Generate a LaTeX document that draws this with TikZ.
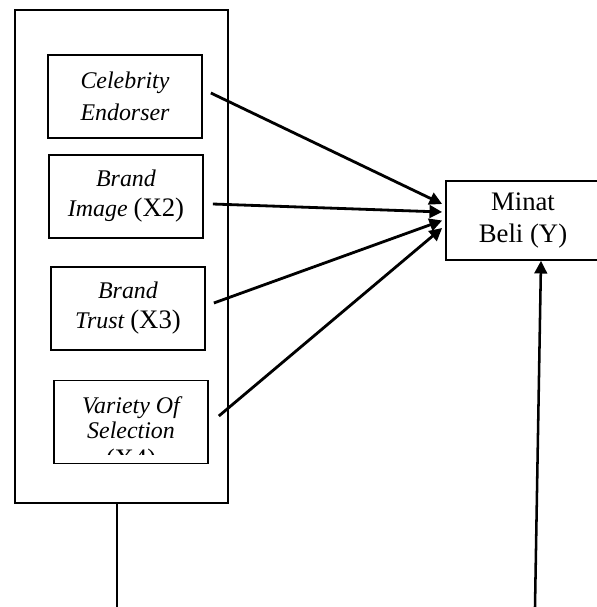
\documentclass[tikz,border=0pt]{standalone}
\usepackage{fontspec}
\setmainfont{Liberation Serif}
\usetikzlibrary{positioning,calc,arrows.meta}
\newcommand{\upnum}[1]{{\fontsize{19}{21}\selectfont\upshape #1}}
\tikzset{
    varbox/.style={rectangle, minimum width=3.85cm, minimum height=2.075cm, draw=black, line width=1.2pt, inner sep=0pt, align=center, font=\fontsize{17}{22.8}\selectfont\itshape},
    groupbox/.style={rectangle, minimum width=5.325cm, minimum height=12.325cm, draw=black, line width=1.2pt},
    lbl/.style={align=center, inner sep=0pt, font=\fontsize{17}{17.7}\selectfont\itshape},
    arr/.style={line width=2pt,-{Triangle[length=9pt,width=9pt]}},
    link/.style={line width=1.1pt}
    }

\begin{document}
\begin{tikzpicture}[x=0.025cm,y=-0.025cm]
        \useasboundingbox (0,0) rectangle (597,607);
        \node[groupbox] (group) at (121.5,256.5) {};
        \node[varbox] (celeb) at (125,96.5) {Celebrity\\Endorser};
        \node[varbox,font=\fontsize{17}{21.3}\selectfont\itshape] (image) at (126,196.5) {Brand\\Image \upnum{(X2)}};
        \node[varbox,font=\fontsize{17}{21.3}\selectfont\itshape] (trust) at (128,308.5) {Brand\\Trust \upnum{(X3)}};
        \node[varbox] (variety) at (131,422) {};
        % third line is cut off by the box
        \begin{scope}
            \clip (54,381) rectangle (208,454);
            \node[lbl, anchor=north] (varytext) at (131,396) {Variety Of\\Selection\\[3.5pt]\upnum{(X4)}};
        \end{scope}
        \node[varbox, font=\fontsize{19}{22.8}\selectfont, minimum height=1.975cm] (minat) at (523,220.5) {Minat\\Beli (Y)};

        \coordinate (gfoot) at (117,607);
        \coordinate (yfoot) at (535,607);

        \draw[arr] ($(celeb.east)+(8,-3.5)$) -- ($(minat.west)+(-3,-16.5)$);
        \draw[arr] ($(image.east)+(9,7.5)$) -- ($(minat.west)+(-3,-8.5)$);
        \draw[arr] ($(trust.east)+(8,-5.5)$) -- ($(minat.west)+(-3,0)$);
        \draw[arr] ($(variety.east)+(10,-6)$) -- ($(minat.west)+(-3,7.5)$);
        \draw[link] (group.south -| gfoot) -- (gfoot);
        \draw[arr,line width=1.8pt] (yfoot) -- ($(minat.south)+(18,0)$);
    \end{tikzpicture}
\end{document}
